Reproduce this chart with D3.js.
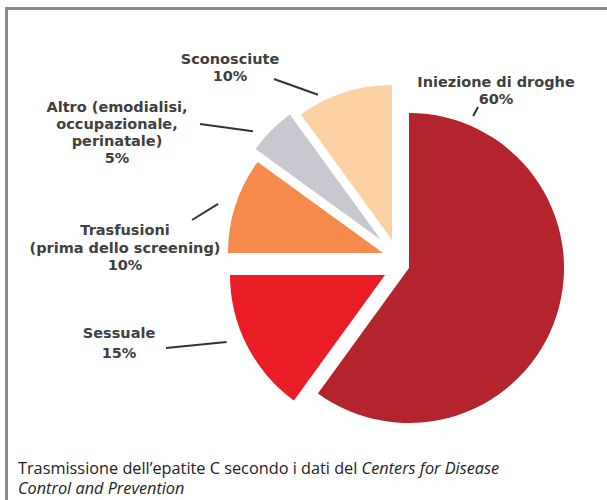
<!DOCTYPE html>
<html>
<head>
<meta charset="utf-8">
<script src="https://cdn.jsdelivr.net/npm/d3@7"></script>
<style>
  body { margin: 0; background: #fff; }
</style>
</head>
<body>
<div id="chart"></div>
<script>
// dati (CDC)
const categories = ["Iniezione di droghe", "Sessuale", "Trasfusioni", "Altro", "Sconosciute"];
const values = [60, 15, 10, 5, 10];
const labelLines = [
  ["Iniezione di droghe", "60%"],
  ["Sessuale", "15%"],
  ["Trasfusioni", "(prima dello screening)", "10%"],
  ["Altro (emodialisi,", "occupazionale,", "perinatale)", "5%"],
  ["Sconosciute", "10%"]
];
const colors = ["#b3242c", "#ea1d26", "#f68a4d", "#c8c8d0", "#fcd2a4"];

const width = 607;
const height = 500;
const cx = 409, cy = 268, radius = 155;

// spostamento delle fette staccate
const sliceShift = [[0, 0], [-24, 7], [-26, -15], [-28, -28], [-17, -28]];

// posizione etichette e linee guida
const labelPos = [
  { x: 496, y: 87, gap: 17, lead: [478, 107], t: 0.106, pad: 10 },
  { x: 119, y: 338, gap: 20, lead: [166, 348], t: 0.576, pad: 17 },
  { x: 125, y: 235, gap: 17.5, lead: [192, 220], t: 0.46, pad: 17 },
  { x: 117, y: 112, gap: 17, lead: [200, 124], t: 0.24, pad: 13 },
  { x: 230, y: 64, gap: 17, lead: [274, 79], t: 0.25, pad: 8 }
];

const svg = d3.select("#chart")
  .append("svg")
  .attr("width", width)
  .attr("height", height);

// cornice
svg.append("path")
  .attr("d", `M6.5,${height + 5} V8.5 H${width + 5}`)
  .attr("fill", "none")
  .attr("stroke", "#8a8a8a")
  .attr("stroke-width", 3);

const data = categories.map((c, i) => ({ name: c, value: values[i], i }));

const pie = d3.pie().value(d => d.value).sort(null);
const arc = d3.arc().innerRadius(0).outerRadius(radius);
const arcs = pie(data);

function center(d) {
  const s = sliceShift[d.data.i];
  return [cx + s[0], cy + s[1]];
}

svg.append("g")
  .selectAll("path")
  .data(arcs)
  .enter()
  .append("path")
  .attr("transform", d => `translate(${center(d)})`)
  .attr("d", arc)
  .attr("fill", d => colors[d.data.i]);

// linee guida
arcs.forEach(d => {
  const p = labelPos[d.data.i];
  const [ox, oy] = center(d);
  const a = d.startAngle + p.t * (d.endAngle - d.startAngle);
  const rr = radius + p.pad;
  svg.append("line")
    .attr("x1", p.lead[0])
    .attr("y1", p.lead[1])
    .attr("x2", ox + rr * Math.sin(a))
    .attr("y2", oy - rr * Math.cos(a))
    .attr("stroke", "#333")
    .attr("stroke-width", 2);
});

// etichette
const labels = svg.selectAll("text.lbl")
  .data(arcs)
  .enter()
  .append("text")
  .attr("class", "lbl")
  .attr("text-anchor", "middle")
  .attr("font-family", "DejaVu Sans, sans-serif")
  .attr("font-size", "14.5px")
  .attr("font-weight", "bold")
  .attr("fill", "#404040")
  .attr("transform", d => `translate(${labelPos[d.data.i].x},${labelPos[d.data.i].y})`);

labels.selectAll("tspan")
  .data(d => labelLines[d.data.i].map((t, k) => ({ t, k, gap: labelPos[d.data.i].gap })))
  .enter()
  .append("tspan")
  .attr("x", 0)
  .attr("y", d => d.k * d.gap)
  .text(d => d.t);

// didascalia
const caption = svg.append("text")
  .attr("x", 18)
  .attr("y", 474)
  .attr("font-family", "Open Sans, sans-serif")
  .attr("font-size", "16.3px")
  .attr("fill", "#222");

caption.append("tspan").text("Trasmissione dell’epatite C secondo i dati del ");
caption.append("tspan").attr("font-style", "italic").text("Centers for Disease");
caption.append("tspan")
  .attr("x", 18)
  .attr("dy", 20)
  .attr("font-style", "italic")
  .text("Control and Prevention");
</script>
</body>
</html>
